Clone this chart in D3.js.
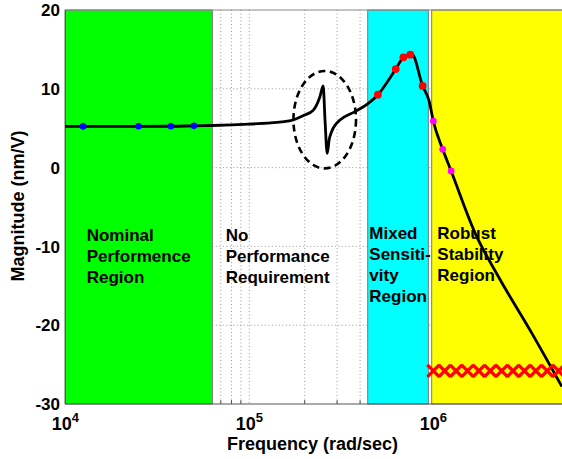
<!DOCTYPE html>
<html>
<head>
<meta charset="utf-8">
<script src="https://cdn.jsdelivr.net/npm/d3@7"></script>
<style>
  html, body { margin: 0; padding: 0; background: #ffffff; }
  svg { display: block; }
  text { font-family: "Liberation Sans", Arial, sans-serif; font-weight: bold; fill: #000; }
</style>
</head>
<body>
<svg id="chart" width="562" height="459"></svg>
<script>
// ---------------- data ----------------
const curveFreq = [1e4, 1.25e4, 2.5e4, 3.75e4, 5e4, 6.3e4, 8e4, 1e5, 1.25e5, 1.5e5, 1.73e5, 1.97e5,
  2.23e5, 2.42e5, 2.52e5, 2.58e5, 2.65e5, 2.72e5, 2.8e5, 2.95e5, 3.11e5, 3.75e5, 4.4e5, 5e5, 5.6e5,
  6.25e5, 6.875e5, 7.5e5, 7.65e5, 8.75e5, 9.5e5, 1e6, 1.125e6, 1.25e6, 1.69e6, 2.26e6, 3.43e6, 5e6];
const curveMag = [5.22, 5.23, 5.24, 5.25, 5.3, 5.34, 5.42, 5.52, 5.65, 5.8, 6.04, 6.6,
  7.3, 9.0, 10.36, 6.0, 1.8, 3.6, 4.56, 5.5, 6.04, 7.1, 8.1, 9.25, 10.8,
  12.5, 14.0, 14.33, 14.4, 10.36, 8.4, 5.91, 2.32, -0.43, -8.34, -13.85, -21.0, -27.8];

const blueFreq = [1.25e4, 2.5e4, 3.75e4, 5e4];
const blueMag = [5.23, 5.24, 5.25, 5.3];
const redFreq = [5e5, 6.25e5, 6.875e5, 7.5e5, 8.75e5];
const redMag = [9.25, 12.5, 14.0, 14.33, 10.36];
const magentaFreq = [1e6, 1.125e6, 1.25e6];
const magentaMag = [5.91, 2.32, -0.43];

const boundFreq = [1.0e6, 1.153e6, 1.33e6, 1.534e6, 1.769e6, 2.04e6, 2.352e6, 2.712e6, 3.128e6, 3.607e6, 4.159e6, 4.796e6];
const boundMag = [-25.8, -25.8, -25.8, -25.8, -25.8, -25.8, -25.8, -25.8, -25.8, -25.8, -25.8, -25.8];

// regions: [start freq, end freq]
const regionNames = ["Nominal", "None", "Mixed", "Robust"];
const regionStart = [1e4, 6.3e4, 4.4e5, 9.8e5];
const regionEnd = [6.3e4, 4.4e5, 9.4e5, 5e6];
const regionColors = ["#00ff00", null, "#00ffff", "#ffff00"];
const regionLabels = [
  ["Nominal", "Performence", "Region"],
  ["No", "Performance", "Requirement"],
  ["Mixed", "Sensiti-", "vity", "Region"],
  ["Robust", "Stability", "Region"]
];

const yTicks = [-30, -20, -10, 0, 10, 20];
const xMajorExp = [4, 5, 6];
const xMinor = [2e4, 3e4, 4e4, 5e4, 6e4, 7e4, 8e4, 9e4, 2e5, 3e5, 4e5, 5e5, 6e5, 7e5, 8e5, 9e5, 2e6, 3e6, 4e6];

const xDomain = [1e4, 5e6];
const yDomain = [-30, 20];

// annotation ellipse (data coords): centre freq, centre mag, half-width in decades, half-height in mag
const ellipseCenter = [2.57e5, 6.08];
const ellipseHalfDecades = 0.17;
const ellipseHalfMag = 6.18;

// ---------------- layout ----------------
const L = 65.3, T = 10, B = 404;
const R = L + 184 * Math.log10(xDomain[1] / xDomain[0]);

const svg = d3.select("#chart");
const x = d3.scaleLog().domain(xDomain).range([L, R]);
const y = d3.scaleLinear().domain(yDomain).range([B, T]);

svg.append("rect").attr("width", 562).attr("height", 459).attr("fill", "#fff");

// grid
const grid = svg.append("g");
const vLines = xMinor.concat(xMajorExp.map(e => Math.pow(10, e)));
grid.selectAll("line.v").data(vLines).join("line")
  .attr("x1", d => x(d)).attr("x2", d => x(d)).attr("y1", T).attr("y2", B)
  .attr("stroke", "#9a9a9a").attr("stroke-width", 1).attr("stroke-dasharray", "1,2.5");
grid.selectAll("line.h").data(yTicks.filter(v => v > -30 && v < 20)).join("line")
  .attr("x1", L).attr("x2", R).attr("y1", d => y(d)).attr("y2", d => y(d))
  .attr("stroke", "#9a9a9a").attr("stroke-width", 1).attr("stroke-dasharray", "1,2.5");

// tick marks (inside, bottom)
grid.selectAll("line.tm").data(xMinor).join("line")
  .attr("x1", d => x(d)).attr("x2", d => x(d)).attr("y1", B).attr("y2", B - 4)
  .attr("stroke", "#555").attr("stroke-width", 1);

// region patches
const regIdx = d3.range(regionNames.length).filter(i => regionColors[i]);
svg.append("g").selectAll("rect").data(regIdx).join("rect")
  .attr("x", i => x(regionStart[i]))
  .attr("y", T)
  .attr("width", i => x(regionEnd[i]) - x(regionStart[i]) + (i === 3 ? 5 : 0))
  .attr("height", B - T)
  .attr("fill", i => regionColors[i])
  .attr("stroke", "#7a7a7a").attr("stroke-width", 1);

// spines
svg.append("line").attr("x1", L).attr("x2", 562).attr("y1", T).attr("y2", T)
  .attr("stroke", "#888").attr("stroke-width", 1);
svg.append("line").attr("x1", L).attr("x2", 562).attr("y1", B).attr("y2", B)
  .attr("stroke", "#555").attr("stroke-width", 1.2);
svg.append("line").attr("x1", L).attr("x2", L).attr("y1", T).attr("y2", B)
  .attr("stroke", "#555").attr("stroke-width", 1.2);

// region labels
const labelX = [86.7, 225.7, 369.3, 437.3];
const labelY0 = [240.5, 240.5, 238.5, 238.5];
const lg = svg.append("g");
regionLabels.forEach((lines, i) => {
  const t = lg.append("text").attr("x", labelX[i]).attr("y", labelY0[i]).style("font-size", "17px");
  lines.forEach((s, k) => {
    t.append("tspan").attr("x", labelX[i]).attr("y", labelY0[i] + k * 21).text(s);
  });
});

// main curve
const pts = curveFreq.map((f, i) => [f, curveMag[i]]);
svg.append("path").datum(pts)
  .attr("d", d3.line().x(d => x(d[0])).y(d => y(d[1])).curve(d3.curveMonotoneX))
  .attr("fill", "none").attr("stroke", "#000").attr("stroke-width", 2.8)
  .attr("stroke-linejoin", "round");

// dashed ellipse
const ecx = x(ellipseCenter[0]);
const erx = x(ellipseCenter[0] * Math.pow(10, ellipseHalfDecades)) - ecx;
const ecy = y(ellipseCenter[1]);
const ery = y(ellipseCenter[1] - ellipseHalfMag) - ecy;
svg.append("ellipse").attr("cx", ecx).attr("cy", ecy).attr("rx", erx).attr("ry", ery)
  .attr("fill", "none").attr("stroke", "#000").attr("stroke-width", 2.6)
  .attr("stroke-dasharray", "7,4.5");

// dots
function dots(fs, ms, color, r) {
  svg.append("g").selectAll("circle").data(fs.map((f, i) => [f, ms[i]])).join("circle")
    .attr("cx", d => x(d[0])).attr("cy", d => y(d[1])).attr("r", r).attr("fill", color);
}
dots(blueFreq, blueMag, "#0000ff", 3.3);
dots(redFreq, redMag, "#ff0000", 3.9);
dots(magentaFreq, magentaMag, "#ff00ff", 3.4);

// x markers (bound)
const xm = svg.append("g");
const s = 6;
boundFreq.forEach((f, i) => {
  const cx = x(f), cy = y(boundMag[i]);
  xm.append("path")
    .attr("d", `M${cx - s},${cy - s}L${cx + s},${cy + s}M${cx - s},${cy + s}L${cx + s},${cy - s}`)
    .attr("stroke", "#ff0000").attr("stroke-width", 3.4).attr("fill", "none");
});

// y tick labels
svg.append("g").selectAll("text").data(yTicks).join("text")
  .attr("x", 60).attr("y", d => y(d)).attr("dy", "0.36em")
  .attr("text-anchor", "end").style("font-size", "17px")
  .text(d => d);

// x tick labels
const xl = svg.append("g");
xMajorExp.forEach(e => {
  const t = xl.append("text").attr("x", x(Math.pow(10, e))).attr("y", 430)
    .attr("text-anchor", "middle").style("font-size", "18px");
  t.append("tspan").text("10");
  t.append("tspan").attr("dy", -8).style("font-size", "13px").text(e);
});

// axis titles
svg.append("text").attr("x", 312.5).attr("y", 450).attr("text-anchor", "middle")
  .style("font-size", "18px").text("Frequency (rad/sec)");
svg.append("text").attr("transform", "translate(24,206) rotate(-90)").attr("text-anchor", "middle")
  .style("font-size", "18px").text("Magnitude (nm/V)");
</script>
</body>
</html>
